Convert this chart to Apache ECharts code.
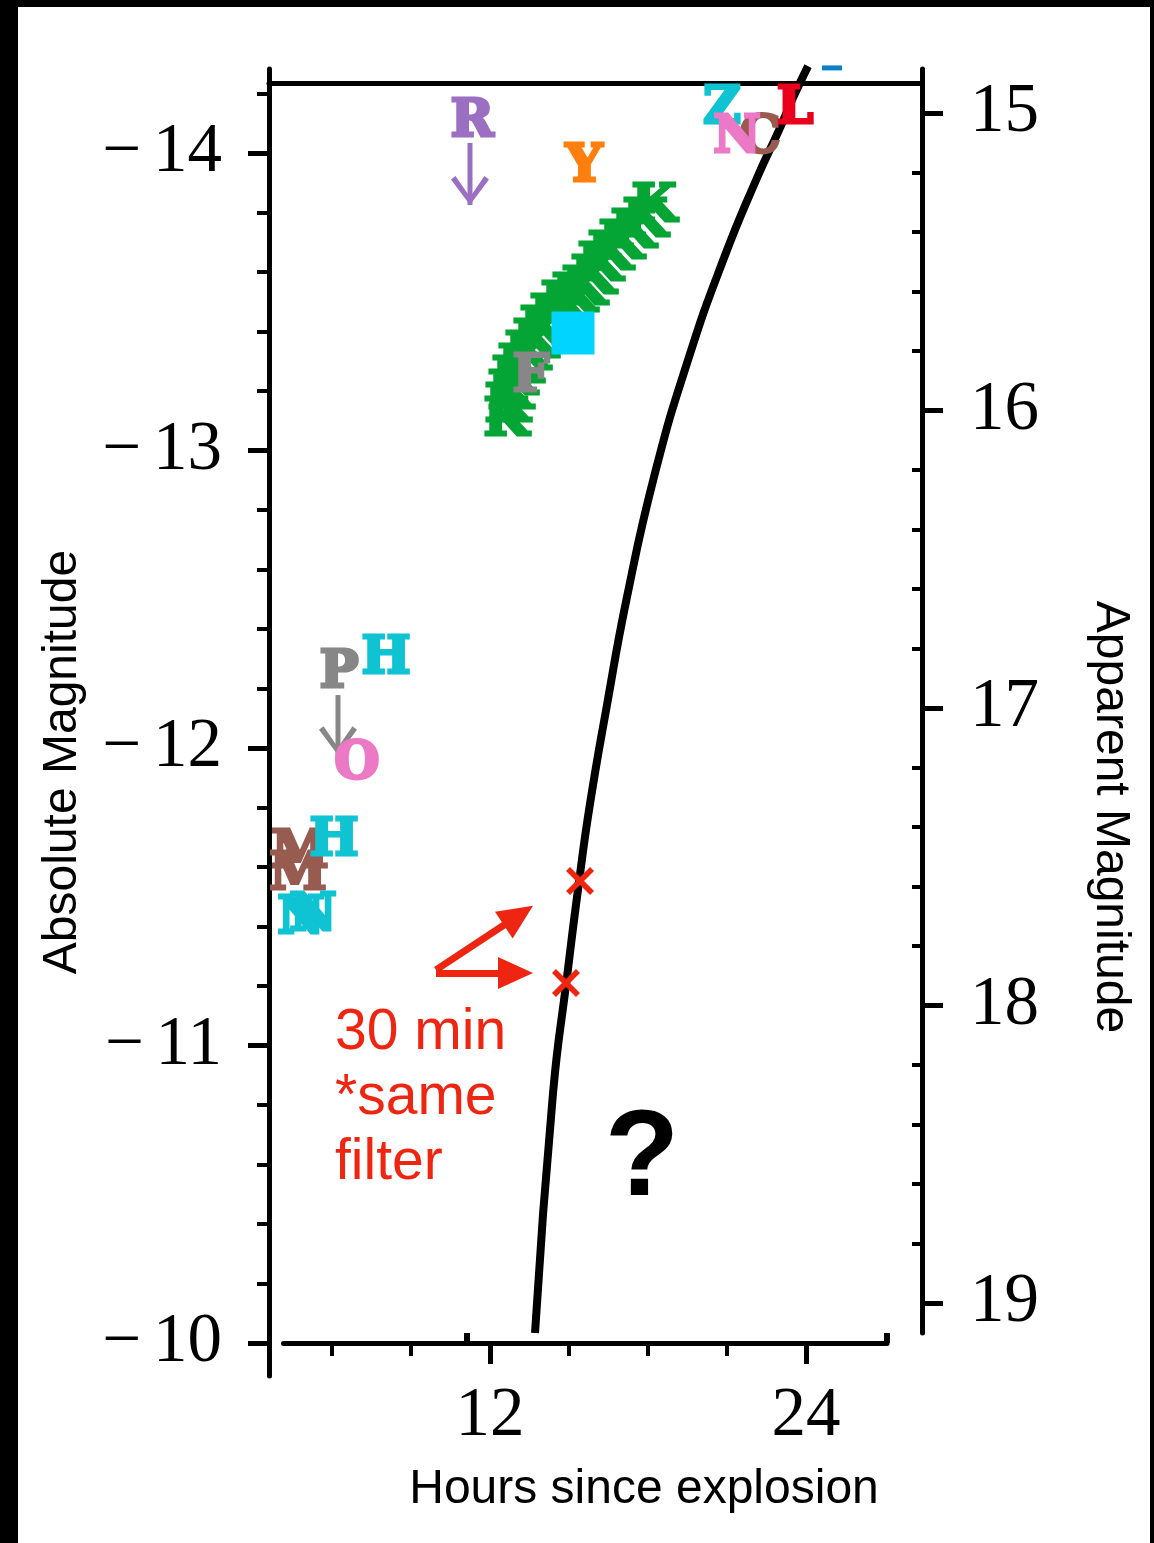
<!DOCTYPE html>
<html><head><meta charset="utf-8">
<script src="https://cdn.jsdelivr.net/npm/echarts@6/dist/echarts.min.js"></script>
<style>html,body{margin:0;padding:0;background:#fff}#c{width:1154px;height:1543px}</style>
</head><body><div id="c"></div>
<script>
// ================= DATA =================
// axis ticks
const HOUR_TICKS = [12, 24];
const HOUR_MINOR = [6, 9, 15, 18, 21];
const HOUR_STUBS = [11.13, 27.05];
const ABS_TICKS = [-14, -13, -12, -11, -10];
const ABS_MINOR = [-14.2, -13.8, -13.6, -13.4, -13.2, -12.8, -12.6, -12.4, -12.2, -11.8, -11.6, -11.4, -11.2, -10.8, -10.6, -10.4, -10.2];
const APP_TICKS = [15, 16, 17, 18, 19];
const APP_MINOR = [15.2, 15.4, 15.6, 15.8, 16.2, 16.4, 16.6, 16.8, 17.2, 17.4, 17.6, 17.8, 18.2, 18.4, 18.6, 18.8];

// model light curve (hours, absolute magnitude)
const curveHours = [13.709, 14.393, 14.924, 15.380, 15.797, 16.443, 17.203, 18.266, 19.557, 20.886, 22.139, 22.975, 23.506, 24.076];
const curveMags  = [-10.034, -10.840, -11.230, -11.550, -11.812, -12.145, -12.508, -12.924, -13.314, -13.647, -13.916, -14.077, -14.185, -14.292];

// dense "K" band observations
const kHours = [18.228, 17.886, 17.430, 16.975, 16.557, 16.177, 15.911, 15.570, 15.190, 14.772, 14.354, 13.975, 13.709, 13.405, 13.139, 12.911, 12.760, 12.646, 12.608];
const kMags  = [-13.818, -13.768, -13.731, -13.694, -13.654, -13.617, -13.576, -13.539, -13.513, -13.489, -13.445, -13.405, -13.361, -13.321, -13.277, -13.234, -13.187, -13.143, -13.096];

// square marker
const squareHours = [15.152];
const squareMags  = [-13.395];

// letter markers
const letterNames = ['R', 'Y', 'F', 'Z', 'C', 'N', 'L', 'P', 'H', 'O', 'M', 'M', 'H', 'N', 'N'];
const letterHours = [11.317, 15.570, 13.557, 20.810, 22.253, 21.380, 23.582, 6.266, 8.051, 6.949, 4.785, 4.709, 6.076, 4.823, 5.279];
const letterMags  = [-14.101, -13.950, -13.247, -14.145, -14.050, -14.050, -14.145, -12.252, -12.296, -11.946, -11.644, -11.570, -11.687, -11.422, -11.432];
const letterBand  = ['purple', 'orange', 'gray', 'cyan', 'brown', 'pink', 'red', 'gray', 'cyan', 'pink', 'brown', 'brown', 'cyan', 'cyan', 'cyan'];

// clipped marker at the top edge
const edgeHours = [24.987];
const edgeMags  = [-14.286];

// upper-limit arrows (hour, start mag, tip mag)
const limitHours = [11.24, 6.228];
const limitStart = [-14.034, -12.178];
const limitTip   = [-13.825, -11.976];
const limitBand  = ['purple', 'gray'];

// "30 min, same filter" pair
const pairHours = [15.418, 14.886];
const pairMags  = [-11.553, -11.210];

// red pointer arrows (tail hour, tail mag, head hour, head mag)
const pointerTailHours = [9.949, 9.949];
const pointerTailMags  = [-11.254, -11.244];
const pointerHeadHours = [13.079, 12.968];
const pointerHeadMags  = [-11.437, -11.244];

// ================= STYLE / LAYOUT =================
const BAND_COLOR = {
  purple: '#9b6fc2', orange: '#ff7f0e', gray: '#878787', cyan: '#0fc3d2',
  brown: '#985b50', pink: '#ec79c5', red: '#e8001c', green: '#04a534',
  sky: '#00d4ff', blue: '#0a80c8'
};
const RED = '#ee2611';
const PXH = 26.3333, X0 = 174;     // px per hour, x of hour 0
const PXM = 297.5, Y14 = 153;      // px per mag, y of mag -14
const hx = h => X0 + h * PXH;
const my = m => Y14 + (m + 14) * PXM;

const SERIF = '"Liberation Serif", "Times New Roman", serif';
const SANS = '"Liberation Sans", Arial, sans-serif';
const SLAB = '"DejaVu Serif", serif';

const DH0 = 4, DH1 = 28, DM0 = -14.25, DM1 = -9.75;

const hidden = {show: false};
function axisBase(extra) {
  return Object.assign({
    type: 'value', splitLine: hidden, splitArea: hidden,
    axisLine: {show: false}, axisTick: {show: false}, axisLabel: {show: false}
  }, extra);
}

const absMin = -14 - (Y14 - 69) / PXM, absMax = -10 + (1376 - my(-10)) / PXM;
const appMin = 15 - (113 - 69) / PXM, appMax = 15 + (1333 - 113) / PXM;
const bMin = (283.5 - X0) / PXH, bMax = (887 - X0) / PXH;

const grids = [
  {left: hx(DH0), top: my(DM0), width: (DH1 - DH0) * PXH, height: (DM1 - DM0) * PXM},  // 0 data
  {left: 269, top: 69, width: 10, height: 1307},                                          // 1 left axis
  {left: 912, top: 69, width: 10, height: 1264},                                          // 2 right axis
  {left: 283.5, top: 1333, width: 603.5, height: 10},                                     // 3 bottom axis
  {left: 269, top: 83, width: 653, height: 10}                                            // 4 top line
].map(g => Object.assign({containLabel: false, outerBoundsMode: 'none'}, g));

const lineSt = {color: '#000', width: 5};
const LBL = {fontFamily: SERIF, fontSize: 69, color: '#000'};

const xAxes = [
  axisBase({gridIndex: 0, min: DH0, max: DH1, show: false}),
  axisBase({gridIndex: 1, min: 0, max: 1, show: false}),
  axisBase({gridIndex: 2, min: 0, max: 1, show: false}),
  axisBase({gridIndex: 3, min: bMin, max: bMax, position: 'bottom',
    axisLine: {show: true, onZero: false, lineStyle: lineSt},
    axisTick: {show: true, length: 21, lineStyle: {color: '#000', width: 5}, customValues: HOUR_TICKS},
    axisLabel: Object.assign({show: true, customValues: HOUR_TICKS, margin: 39}, LBL)}),
  axisBase({gridIndex: 3, min: bMin, max: bMax, position: 'bottom',
    axisTick: {show: true, length: 13, lineStyle: {color: '#000', width: 4}, customValues: HOUR_MINOR}}),
  axisBase({gridIndex: 3, min: bMin, max: bMax, position: 'bottom',
    axisTick: {show: true, inside: true, length: 10, lineStyle: {color: '#000', width: 6}, customValues: HOUR_STUBS}}),
  axisBase({gridIndex: 4, min: 0, max: 1, position: 'top',
    axisLine: {show: true, onZero: false, lineStyle: lineSt}})
];

const yAxes = [
  axisBase({gridIndex: 0, min: DM0, max: DM1, inverse: true, show: false}),
  axisBase({gridIndex: 1, min: absMin, max: absMax, inverse: true, position: 'left',
    axisLine: {show: true, onZero: false, lineStyle: lineSt},
    axisTick: {show: true, length: 21, lineStyle: {color: '#000', width: 5}, customValues: ABS_TICKS},
    axisLabel: Object.assign({show: true, customValues: ABS_TICKS, margin: 47,
      formatter: v => '\u2212\u2006' + Math.abs(Math.round(v))}, LBL)}),
  axisBase({gridIndex: 1, min: absMin, max: absMax, inverse: true, position: 'left',
    axisTick: {show: true, length: 12, lineStyle: {color: '#000', width: 4}, customValues: ABS_MINOR}}),
  axisBase({gridIndex: 2, min: appMin, max: appMax, inverse: true, position: 'right',
    axisLine: {show: true, onZero: false, lineStyle: lineSt},
    axisTick: {show: true, length: 21, lineStyle: {color: '#000', width: 5}, customValues: APP_TICKS},
    axisLabel: Object.assign({show: true, customValues: APP_TICKS, margin: 48}, LBL)}),
  axisBase({gridIndex: 2, min: appMin, max: appMax, inverse: true, position: 'right',
    axisTick: {show: true, length: 12, lineStyle: {color: '#000', width: 4}, customValues: APP_MINOR}}),
  axisBase({gridIndex: 3, min: 0, max: 1, show: false}),
  axisBase({gridIndex: 4, min: 0, max: 1, show: false})
];

const letterLabel = (color) => ({show: true, position: 'inside', formatter: '{b}',
  fontFamily: SLAB, fontWeight: 'bold', fontSize: 52, color: color,
  textBorderColor: color, textBorderWidth: 3});
const INVISIBLE = {color: 'rgba(0,0,0,0)', opacity: 1};

const kData = kHours.map((h, i) => ({name: 'K', value: [h, kMags[i]]}));
const letterData = letterNames.map((n, i) => {
  const c = BAND_COLOR[letterBand[i]];
  return {name: n, value: [letterHours[i], letterMags[i]], label: {color: c, textBorderColor: c}};
});

// symbols
const CHEVRON_DOWN = 'path://M0,3.5 L4.5,0 L19,21 L33.5,0 L38,3.5 L19,29 Z';
const XMARK = 'path://M0,4 L4,0 L14,10 L24,0 L28,4 L18,14 L28,24 L24,28 L14,18 L4,28 L0,24 L10,14 Z';

const pointerLines = pointerTailHours.map((h, i) => [
  {coord: [h, pointerTailMags[i]], symbol: 'none'},
  {coord: [pointerHeadHours[i], pointerHeadMags[i]], symbol: 'triangle', symbolSize: [32, 35]}
]);

const series = [
  {type: 'line', xAxisIndex: 0, yAxisIndex: 0, z: 2, clip: false, smooth: true, showSymbol: false, symbol: 'none',
   lineStyle: {color: '#000', width: 8}, data: curveHours.map((h, i) => [h, curveMags[i]])},
  {type: 'scatter', xAxisIndex: 0, yAxisIndex: 0, z: 4, clip: false, symbolSize: 1,
   itemStyle: INVISIBLE, label: letterLabel(BAND_COLOR.green), data: kData},
  {type: 'scatter', xAxisIndex: 0, yAxisIndex: 0, z: 5, clip: false, symbol: 'rect', symbolSize: 43,
   itemStyle: {color: BAND_COLOR.sky, opacity: 1}, data: squareHours.map((h, i) => [h, squareMags[i]])},
  {type: 'scatter', xAxisIndex: 0, yAxisIndex: 0, z: 6, clip: false, symbolSize: 1,
   itemStyle: INVISIBLE, label: letterLabel('#000'), data: letterData},
  {type: 'scatter', xAxisIndex: 0, yAxisIndex: 0, z: 6, clip: false, symbol: 'rect', symbolSize: [20, 5],
   itemStyle: {color: BAND_COLOR.blue, opacity: 1}, data: edgeHours.map((h, i) => [h, edgeMags[i]])}
];

// upper-limit arrows: shafts + chevron heads
limitHours.forEach((h, i) => {
  const c = BAND_COLOR[limitBand[i]];
  series.push({type: 'line', xAxisIndex: 0, yAxisIndex: 0, z: 6, clip: false, showSymbol: false, symbol: 'none',
    lineStyle: {color: c, width: 5}, data: [[h, limitStart[i]], [h, limitTip[i]]]});
  series.push({type: 'scatter', xAxisIndex: 0, yAxisIndex: 0, z: 6, clip: false, symbol: CHEVRON_DOWN,
    symbolSize: [38, 29], symbolOffset: [0, -14.5], itemStyle: {color: c, opacity: 1}, data: [[h, limitTip[i]]]});
});

series.push({type: 'line', xAxisIndex: 0, yAxisIndex: 0, z: 7, data: [],
  markLine: {silent: true, animation: false, label: {show: false}, symbol: ['none', 'none'],
    lineStyle: {color: RED, width: 7, type: 'solid'}, data: pointerLines}});
series.push({type: 'scatter', xAxisIndex: 0, yAxisIndex: 0, z: 8, clip: false, symbol: XMARK, symbolSize: 28,
  itemStyle: {color: RED, opacity: 1}, data: pairHours.map((h, i) => [h, pairMags[i]])});

function txt(text, x, y, font, fill, align, rotation) {
  return {type: 'text', x: x, y: y, rotation: rotation || 0, z: 20, silent: true,
    style: {text: text, x: 0, y: 0, font: font, fill: fill,
      align: align || 'left', verticalAlign: 'middle', textAlign: align || 'left', textVerticalAlign: 'middle'}};
}

const graphic = [
  {type: 'rect', shape: {x: 0, y: 0, width: 1154, height: 7}, style: {fill: '#000'}, z: 30},
  {type: 'rect', shape: {x: 0, y: 0, width: 18, height: 1543}, style: {fill: '#000'}, z: 30},
  {type: 'rect', shape: {x: 1150, y: 0, width: 4, height: 1543}, style: {fill: '#000'}, z: 30},
  txt('Absolute Magnitude', 63, 762, '48px ' + SANS, '#000', 'center', Math.PI / 2),
  txt('Apparent Magnitude', 1110, 817, '48px ' + SANS, '#000', 'center', -Math.PI / 2),
  txt('Hours since explosion', 644, 1490, '48px ' + SANS, '#000', 'center'),
  txt('30 min', 335, 1033, '57px ' + SANS, RED, 'left'),
  txt('*same', 335, 1098, '57px ' + SANS, RED, 'left'),
  txt('filter', 335, 1163, '57px ' + SANS, RED, 'left'),
  txt('?', 642, 1161, 'bold 122px ' + SANS, '#000', 'center')
];

const chart = echarts.init(document.getElementById('c'), null, {renderer: 'canvas'});
chart.setOption({
  animation: false,
  backgroundColor: '#fff',
  grid: grids, xAxis: xAxes, yAxis: yAxes, series: series, graphic: graphic
});
</script></body></html>
